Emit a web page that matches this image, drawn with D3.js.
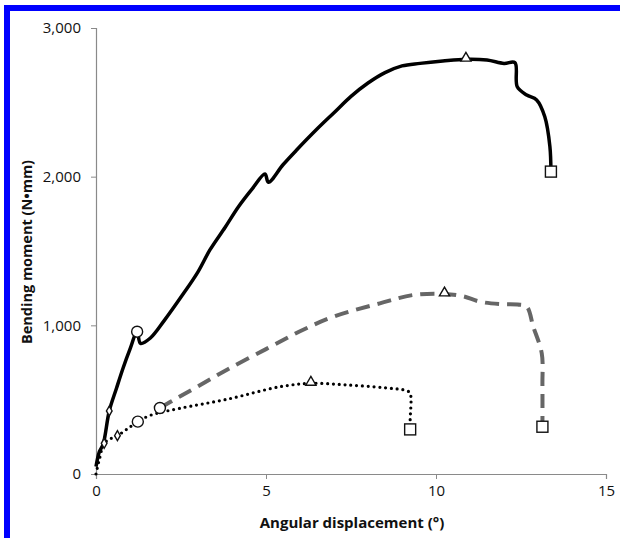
<!DOCTYPE html>
<html><head><meta charset="utf-8">
<script src="https://cdn.jsdelivr.net/npm/d3@7"></script>
<style>body{margin:0;background:#fff}svg{display:block}</style>
</head><body>
<svg id="c" width="620" height="538"></svg>
<script>
// ---- data ----
const xTicks = [0, 5, 10, 15];
const yTicks = [0, 1000, 2000, 3000];
const xTitle = "Angular displacement (°)";
const yTitle = "Bending moment (N•mm)";

const solidX = [0, 0.1, 0.21, 0.39, 0.6, 0.8, 1.0, 1.21, 1.31, 1.6, 2.0, 2.5, 3.0, 3.35, 3.8, 4.19, 4.6, 4.97, 5.07, 5.5, 5.9, 6.5, 7.0, 7.5, 8.0, 8.5, 9.0, 9.53, 10.2, 10.88, 11.5, 12.0, 12.32, 12.39, 12.67, 12.96, 13.2, 13.35, 13.38];
const solidY = [50, 150, 200, 424, 575, 715, 840, 957, 879, 915, 1030, 1190, 1360, 1507, 1660, 1798, 1920, 2018, 1962, 2080, 2179, 2320, 2430, 2540, 2630, 2700, 2745, 2762, 2778, 2790, 2785, 2762, 2767, 2605, 2549, 2516, 2403, 2202, 2034];

const dashX = [1.88, 2.37, 3.0, 3.84, 5.0, 6.0, 7.0, 8.35, 9.33, 10.25, 10.8, 11.29, 11.88, 12.4, 12.67, 12.86, 13.11, 13.13, 13.13];
const dashY = [444, 509, 590, 700, 840, 960, 1060, 1148, 1204, 1211, 1195, 1159, 1143, 1140, 1125, 991, 812, 600, 318];

const dotX = [0, 0.1, 0.24, 0.45, 0.63, 0.9, 1.23, 1.6, 2.47, 3.84, 5.41, 6.32, 7.37, 8.5, 9.14, 9.24, 9.24, 9.24];
const dotY = [0, 100, 206, 240, 258, 300, 352, 395, 442, 502, 587, 610, 599, 580, 560, 543, 363, 300];

// marker positions [x, y]
const diamonds = [[0.39, 424], [0.24, 206], [0.63, 258]];
const circles = [[1.21, 957], [1.23, 352], [1.88, 444]];
const triangles = [[10.88, 2790], [10.25, 1211], [6.32, 610]];
const squares = [[13.38, 2034], [13.13, 318], [9.24, 300]];

// ---- drawing ----
const svg = d3.select("#c");
// blue frame
svg.append("rect").attr("x", 4).attr("y", 5).attr("width", 616).attr("height", 6).attr("fill", "#0000ff");
svg.append("rect").attr("x", 4).attr("y", 5).attr("width", 6).attr("height", 533).attr("fill", "#0000ff");

const x = d3.scaleLinear().domain([0, 15]).range([96, 606]);
const y = d3.scaleLinear().domain([0, 3000]).range([474, 28]);

const font = "'Open Sans', 'Liberation Sans', sans-serif";

const xAxis = svg.append("g").attr("transform", `translate(0,${y(0)})`)
  .call(d3.axisBottom(x).tickValues(xTicks).tickSize(5).tickPadding(6).tickFormat(d3.format("d")));
const yAxis = svg.append("g").attr("transform", `translate(${x(0)},0)`)
  .call(d3.axisLeft(y).tickValues(yTicks).tickSize(5).tickPadding(10).tickFormat(d3.format(",")));
[xAxis, yAxis].forEach(g => {
  g.select(".domain").attr("stroke", "#8a8a8a").attr("stroke-width", 1.2);
  g.selectAll(".tick line").attr("stroke", "#8a8a8a");
  g.selectAll(".tick text").attr("fill", "#111").style("font-family", font).style("font-size", "15px");
});

svg.append("text").attr("x", 352).attr("y", 528).attr("text-anchor", "middle")
  .style("font-family", font).style("font-size", "15px").style("font-weight", "bold").attr("fill", "#111")
  .text(xTitle);
svg.append("text").attr("transform", "translate(32,252) rotate(-90)").attr("text-anchor", "middle")
  .style("font-family", font).style("font-size", "14.5px").style("font-weight", "bold").attr("fill", "#111")
  .text(yTitle);

const line = d3.line().x(d => x(d[0])).y(d => y(d[1])).curve(d3.curveCatmullRom.alpha(0.5));
const zip = (a, b) => a.map((v, i) => [v, b[i]]);

svg.append("path").datum(zip(dashX, dashY)).attr("d", line)
  .attr("fill", "none").attr("stroke", "#666").attr("stroke-width", 4).attr("stroke-dasharray", "14,8");
svg.append("path").datum(zip(dotX, dotY)).attr("d", line)
  .attr("fill", "none").attr("stroke", "#000").attr("stroke-width", 3.2)
  .attr("stroke-linecap", "round").attr("stroke-dasharray", "0,5.8");
svg.append("path").datum(zip(solidX, solidY)).attr("d", line)
  .attr("fill", "none").attr("stroke", "#000").attr("stroke-width", 3.5).attr("stroke-linejoin", "round");

const mk = svg.append("g").attr("fill", "#fff").attr("stroke", "#111").attr("stroke-width", 1.4);
mk.selectAll(".dm").data(diamonds).join("path")
  .attr("d", d3.symbol(d3.symbolDiamond, 28))
  .attr("transform", d => `translate(${x(d[0])},${y(d[1])})`);
mk.selectAll(".ci").data(circles).join("circle")
  .attr("cx", d => x(d[0])).attr("cy", d => y(d[1])).attr("r", 5.5);
mk.selectAll(".tr").data(triangles).join("path")
  .attr("d", d3.symbol(d3.symbolTriangle, 45))
  .attr("transform", d => `translate(${x(d[0])},${y(d[1]) - 1})`);
mk.selectAll(".sq").data(squares).join("rect")
  .attr("x", d => x(d[0]) - 5.5).attr("y", d => y(d[1]) - 5.5).attr("width", 11).attr("height", 11);
</script>
</body></html>
